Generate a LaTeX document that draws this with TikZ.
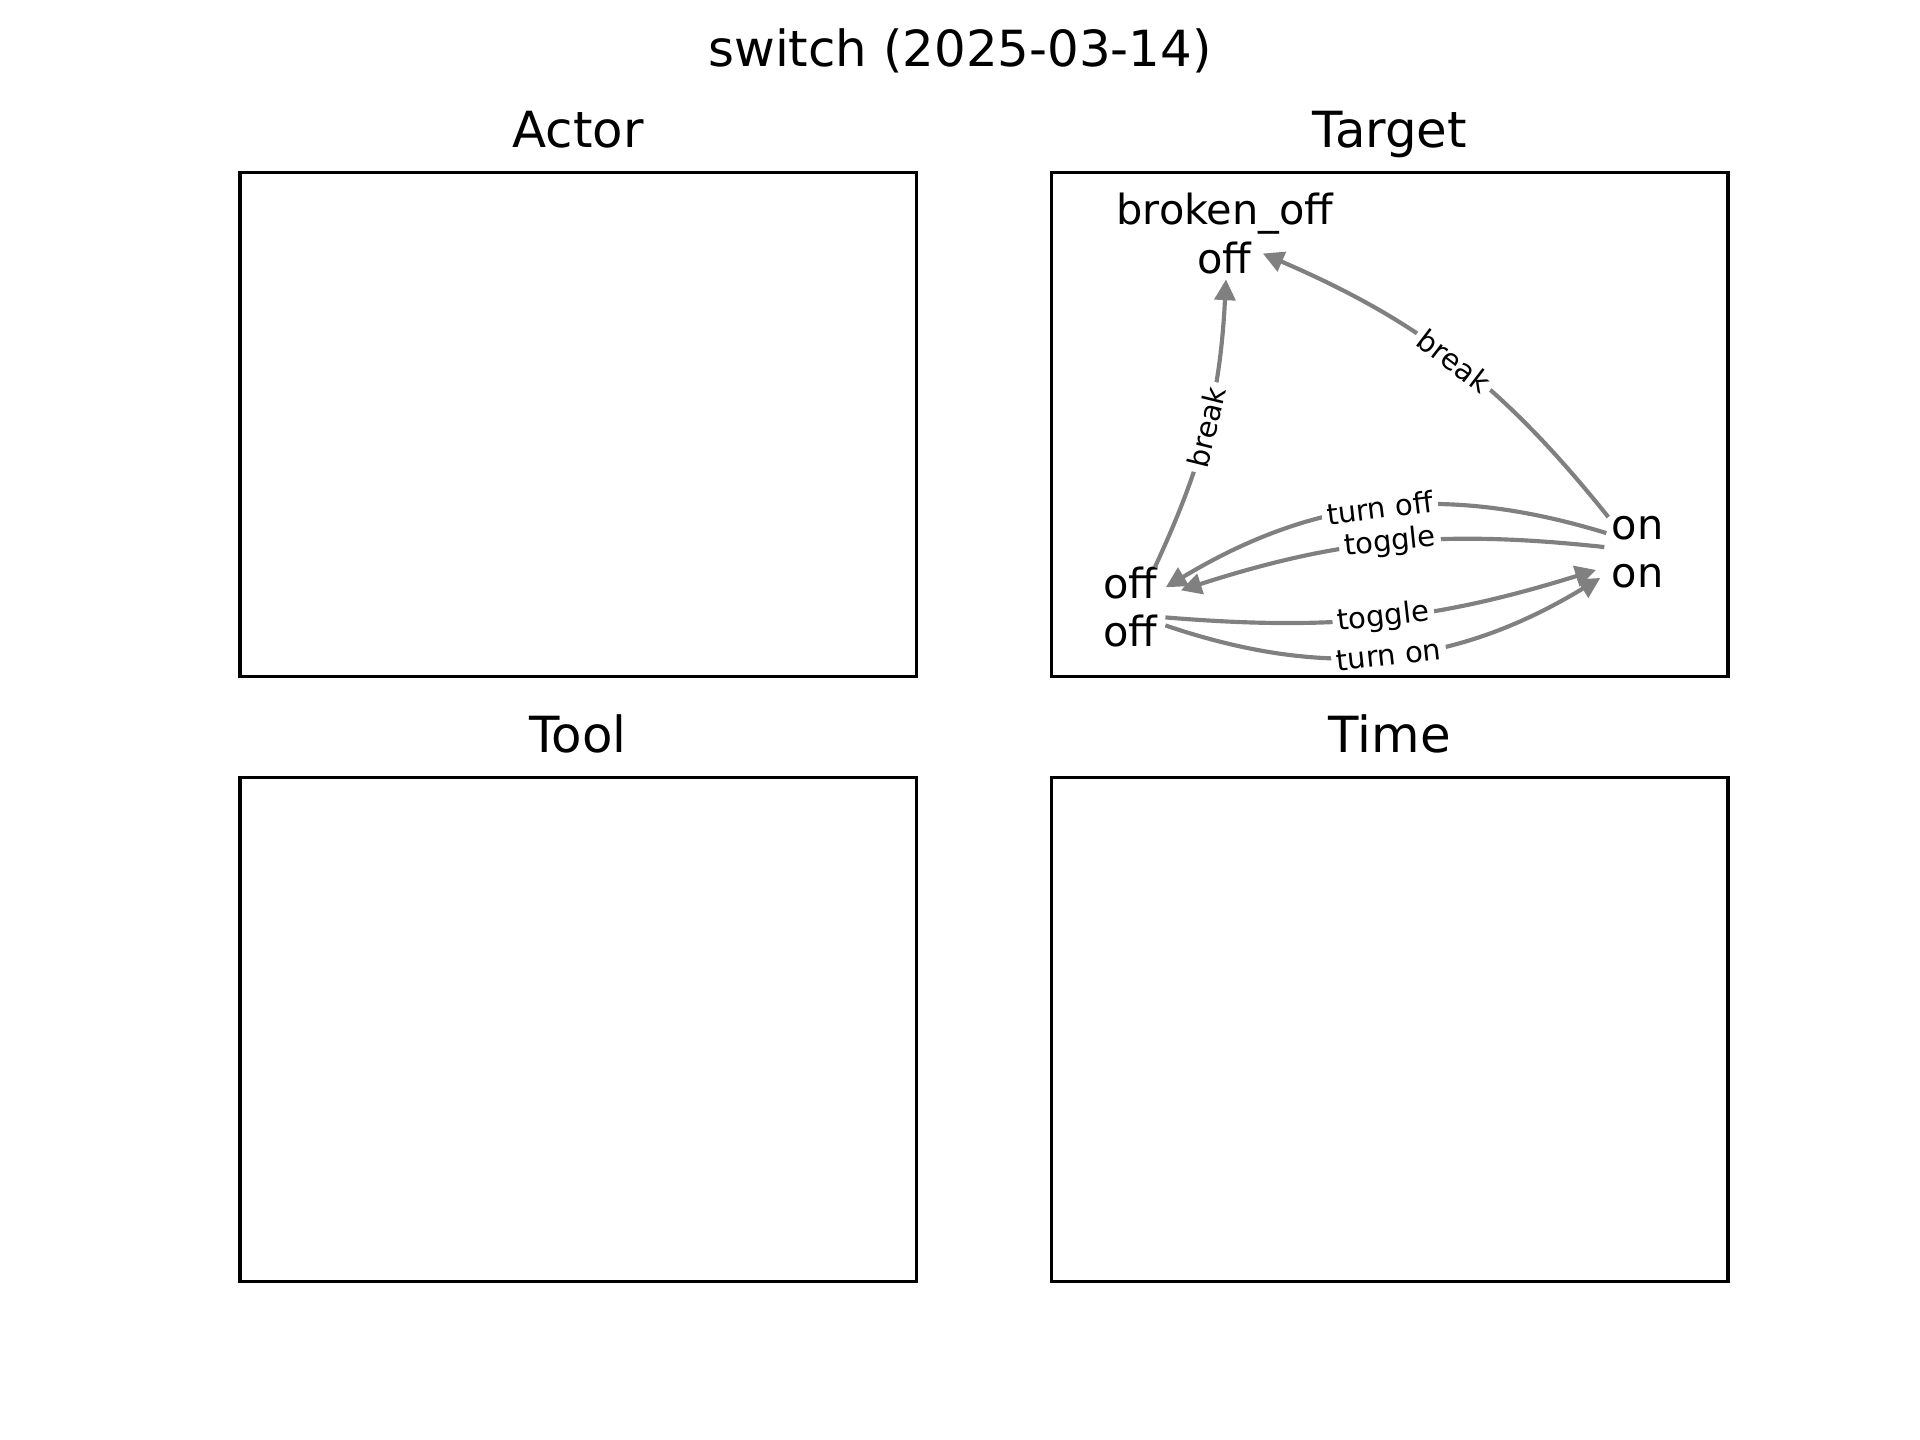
\documentclass[tikz,border=0pt]{standalone}
\usepackage{fontspec}
\setmainfont{DejaVu Sans}
\usetikzlibrary{arrows.meta, calc}
\definecolor{edgegray}{RGB}{128,128,128}
\tikzset{
    frame/.style={draw=black, line width=0.8pt},
    figtitle/.style={font=\fontsize{12}{14}\selectfont, anchor=base, inner sep=0pt},
    statelabel/.style={font=\fontsize{10}{12}\selectfont, anchor=base, inner sep=0pt},
    trans/.style={-{Triangle[length=5pt, width=5pt]}, line width=1pt, color=edgegray},
    translabel/.style={font=\fontsize{7}{8}\selectfont, fill=white, text=black, inner sep=1.2pt, sloped, midway},
}
\begin{document}
\begin{tikzpicture}[x=0.0084667cm, y=-0.0084667cm]
    \useasboundingbox (0,0) rectangle (1920,1440);

    % title and panel titles
    \node[figtitle] (suptitle) at (960,67) {switch (2025-03-14)};

    \node[figtitle] (actor) at (578.2,147.8) {Actor};
    \node[figtitle] (target) at (1389.9,147.8) {Target};
    \node[figtitle] (tool) at (578.2,752.6) {Tool};
    \node[figtitle] (time) at (1389.9,752.6) {Time};

    % target states
    \node[statelabel] (brokenT) at (1225,225) {broken\_off};
    \node[statelabel] (offT) at (1224,274) {off};
    \node[statelabel] (offLup) at (1130,598.3) {off};
    \node[statelabel] (offLlo) at (1130,646.7) {off};
    \node[statelabel] (onUp) at (1637.7,540) {on};
    \node[statelabel] (onLo) at (1637.7,587.3) {on};

    % transitions
    \draw[trans] ($(offLup.east)+(-3,-15.5)$) to[bend right=11] node[translabel] {break} ($(offT.south)+(2,4)$);
    \draw[trans] ($(onUp.west)+(-2.7,-11.6)$) to[bend right=14] node[translabel] {break} ($(offT.east)+(11,-5)$);
    \draw[trans] ($(onUp.west)+(-4.7,4.4)$) to[bend right=24] node[translabel] {turn off} ($(offLup.east)+(8,4.5)$);
    \draw[trans] ($(onUp.west)+(-6.7,18.4)$) to[bend right=12] node[translabel] {toggle} ($(offLup.east)+(23,7.5)$);
    \draw[trans] ($(offLlo.east)+(7.6,-13.8)$) to[bend right=11] node[translabel] {toggle} ($(onLo.west)+(-15,-6)$);
    \draw[trans] ($(offLlo.east)+(7.6,-5.8)$) to[bend right=25] node[translabel] {turn on} ($(onLo.west)+(-10.7,2)$);

    % panel frames on top
    \draw[frame] (240,172.8) rectangle (916.4,676.8);
    \draw[frame] (1051.7,172.8) rectangle (1728,676.8);
    \draw[frame] (240,777.6) rectangle (916.4,1281.6);
    \draw[frame] (1051.7,777.6) rectangle (1728,1281.6);
\end{tikzpicture}
\end{document}
